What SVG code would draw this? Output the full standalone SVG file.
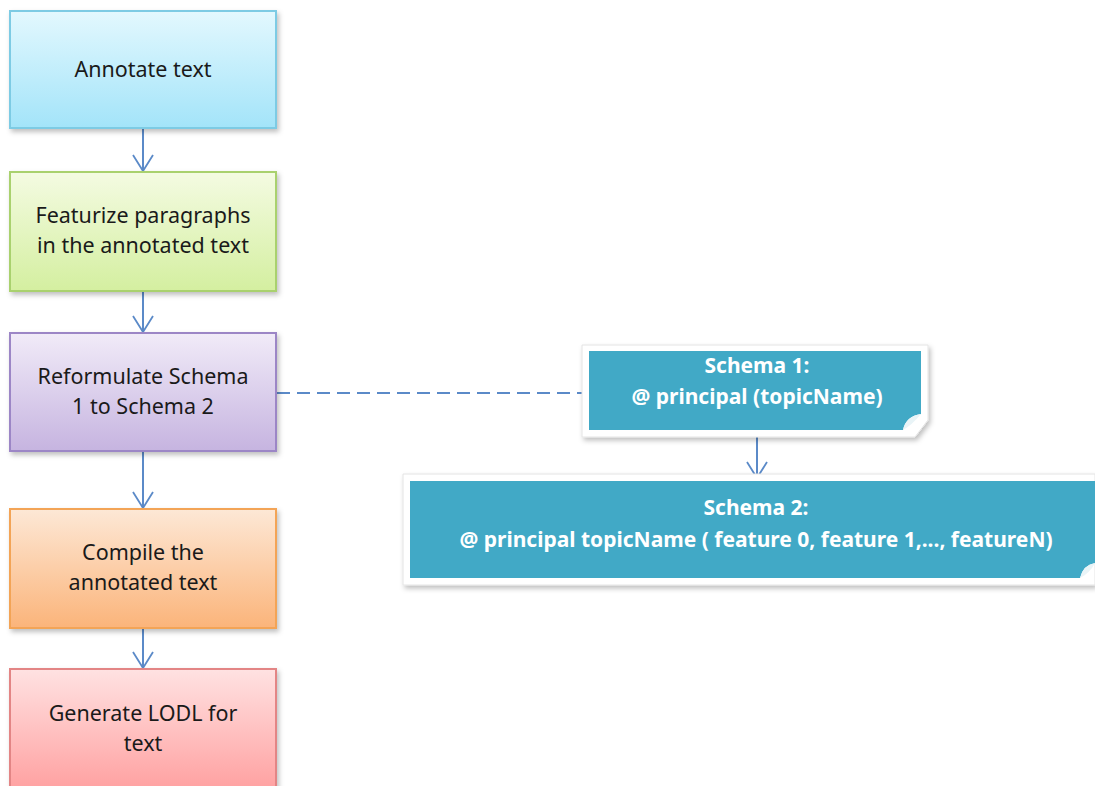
<svg xmlns="http://www.w3.org/2000/svg" width="1095" height="786" viewBox="0 0 1095 786">
  <defs>
    <linearGradient id="gCyan" x1="0" y1="0" x2="0" y2="1">
      <stop offset="0" stop-color="#e3f8fe"/>
      <stop offset="1" stop-color="#a3e4f9"/>
    </linearGradient>
    <linearGradient id="gGreen" x1="0" y1="0" x2="0" y2="1">
      <stop offset="0" stop-color="#f4fbe2"/>
      <stop offset="1" stop-color="#d4efa0"/>
    </linearGradient>
    <linearGradient id="gPurple" x1="0" y1="0" x2="0" y2="1">
      <stop offset="0" stop-color="#f1ebf8"/>
      <stop offset="1" stop-color="#c6b4e0"/>
    </linearGradient>
    <linearGradient id="gOrange" x1="0" y1="0" x2="0" y2="1">
      <stop offset="0" stop-color="#fde8d6"/>
      <stop offset="1" stop-color="#fbb47a"/>
    </linearGradient>
    <linearGradient id="gPink" x1="0" y1="0" x2="0" y2="1">
      <stop offset="0" stop-color="#ffe2e2"/>
      <stop offset="1" stop-color="#ff9c9c"/>
    </linearGradient>
    <filter id="shadow" x="-10%" y="-10%" width="125%" height="130%">
      <feDropShadow dx="2" dy="3" stdDeviation="2.5" flood-color="#000" flood-opacity="0.25"/>
    </filter>
    <!-- open V arrowhead, drawn along +x so orient="auto" turns it with the line -->
    <marker id="arrow" viewBox="0 0 18 22" refX="17" refY="11" markerWidth="18" markerHeight="22" markerUnits="userSpaceOnUse" orient="auto">
      <path d="M1 1 L17 11 L1 21" fill="none" stroke="#5b8ac8" stroke-width="1.8"/>
    </marker>
  </defs>
  <style>
    .step text { font-family: "Noto Sans", "Liberation Sans", sans-serif; font-size: 21.5px; fill: #1a1a1a; text-anchor: middle; }
    .schema text { font-family: "Noto Sans", "Liberation Sans", sans-serif; font-size: 21px; font-weight: bold; fill: #ffffff; text-anchor: middle; }
    .frame { fill: #ffffff; stroke: #e4e4e4; stroke-width: 1; }
    .teal { fill: #41a9c6; }
    .link { fill: none; stroke: #5b8ac8; stroke-width: 2; }
  </style>

  <rect width="1095" height="786" fill="#ffffff"/>

  <!-- connectors -->
  <g id="connectors">
    <line class="link" x1="143" y1="129" x2="143" y2="171" marker-end="url(#arrow)"/>
    <line class="link" x1="143" y1="292" x2="143" y2="332" marker-end="url(#arrow)"/>
    <line class="link" x1="143" y1="452" x2="143" y2="508" marker-end="url(#arrow)"/>
    <line class="link" x1="143" y1="629" x2="143" y2="668" marker-end="url(#arrow)"/>
    <line class="link" x1="277" y1="393" x2="588" y2="393" stroke-dasharray="13 7"/>
    <line class="link" x1="757" y1="437" x2="757" y2="478" marker-end="url(#arrow)"/>
  </g>

  <!-- process steps -->
  <g id="step-annotate" class="step">
    <rect x="10" y="11" width="266" height="117" fill="url(#gCyan)" stroke="#7dcbe4" stroke-width="2" filter="url(#shadow)"/>
    <text x="143" y="77">Annotate text</text>
  </g>
  <g id="step-featurize" class="step">
    <rect x="10" y="172" width="266" height="119" fill="url(#gGreen)" stroke="#a9d16e" stroke-width="2" filter="url(#shadow)"/>
    <text x="143" y="223">Featurize paragraphs</text>
    <text x="143" y="253">in the annotated text</text>
  </g>
  <g id="step-reformulate" class="step">
    <rect x="10" y="333" width="266" height="118" fill="url(#gPurple)" stroke="#9c86c6" stroke-width="2" filter="url(#shadow)"/>
    <text x="143" y="384">Reformulate Schema</text>
    <text x="143" y="414">1 to Schema 2</text>
  </g>
  <g id="step-compile" class="step">
    <rect x="10" y="509" width="266" height="119" fill="url(#gOrange)" stroke="#f3a456" stroke-width="2" filter="url(#shadow)"/>
    <text x="143" y="560">Compile the</text>
    <text x="143" y="590">annotated text</text>
  </g>
  <g id="step-generate" class="step">
    <rect x="10" y="669" width="266" height="130" fill="url(#gPink)" stroke="#e38585" stroke-width="2" filter="url(#shadow)"/>
    <text x="143" y="721">Generate LODL for</text>
    <text x="143" y="751">text</text>
  </g>

  <!-- schema notes -->
  <g id="schema-1" class="schema">
    <path class="frame" d="M582 345 H928 V420 L915 437 H582 Z" filter="url(#shadow)"/>
    <path class="teal" d="M589 351 H921 V414 Q906 416 903 430 H589 Z"/>
    <path d="M921 414 Q906 416 903 430 Q912 425 921 414 Z" fill="#e9f4f7"/>
    <text x="757" y="373">Schema 1:</text>
    <text x="757" y="404">@ principal (topicName)</text>
  </g>
  <g id="schema-2" class="schema">
    <path class="frame" d="M403 474 H1095 V585 H403 Z" filter="url(#shadow)"/>
    <path class="teal" d="M410 481 H1095 V563 Q1083 565 1080 578 H410 Z"/>
    <path d="M1095 563 Q1083 565 1080 578 Q1090 573 1095 563 Z" fill="#e9f4f7"/>
    <text x="756" y="515">Schema 2:</text>
    <text x="756" y="547">@ principal topicName ( feature 0, feature 1,..., featureN)</text>
  </g>
</svg>
